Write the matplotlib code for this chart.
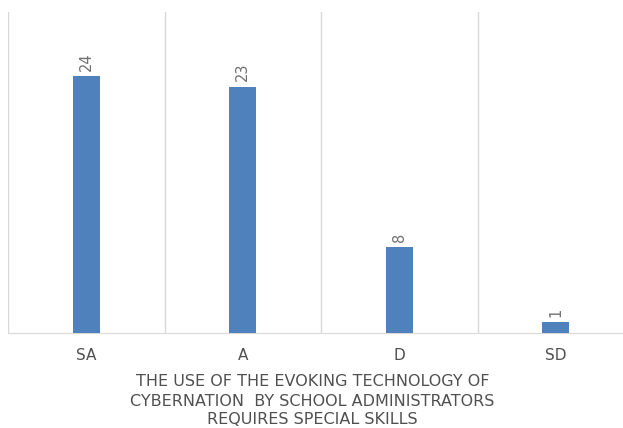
import matplotlib
matplotlib.use("Agg")
import matplotlib.pyplot as plt
from matplotlib.ticker import FixedLocator

categories = ["SA", "A", "D", "SD"]
values = [24, 23, 8, 1]
xlabel_lines = ["THE USE OF THE EVOKING TECHNOLOGY OF",
                "CYBERNATION  BY SCHOOL ADMINISTRATORS",
                "REQUIRES SPECIAL SKILLS"]

W, H = 623, 428
fig = plt.figure(figsize=(W / 100, H / 100), dpi=100)
left, right = 8 / W, 634 / W
bottom, top = (H - 333) / H, (H - 12) / H
ax = fig.add_axes([left, bottom, right - left, top - bottom])

x = [i + 0.5 for i in range(len(categories))]
bars = ax.bar(x, values, width=0.175, color="#4f81bd", zorder=3)
ax.set_xlim(0, len(categories))
ax.set_ylim(0, 30)

for xi, v in zip(x, values):
    ax.annotate(str(v), (xi, v), xytext=(0, 4), textcoords="offset points",
                rotation=90, ha="center", va="bottom", fontsize=10.5,
                color="#707070")

ax.set_xticks(x)
ax.set_xticklabels(categories, fontsize=11, color="#505050")
ax.tick_params(axis="x", length=0, pad=11)
ax.set_yticks([])
ax.xaxis.set_minor_locator(FixedLocator(range(len(categories) + 1)))
ax.grid(axis="x", which="minor", color="#d9d9d9", linewidth=1, zorder=0)
ax.tick_params(axis="x", which="minor", length=0)
for s in ["top", "right", "left"]:
    ax.spines[s].set_visible(False)
ax.spines["bottom"].set_color("#d9d9d9")

cx = (8 + 623) / 2 / W
ys = [381, 401, 420]
for line, yy in zip(xlabel_lines, ys):
    fig.text(cx - 0.005, (H - yy) / H, line, ha="center", va="center",
             fontsize=11.5, color="#505050")

fig.savefig("out.png", dpi=100)
